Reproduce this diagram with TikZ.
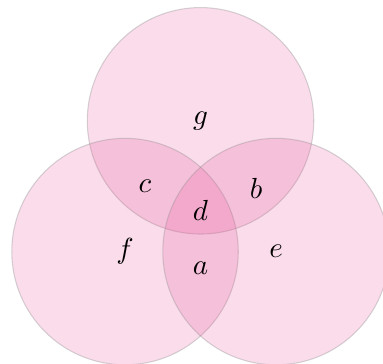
\documentclass[tikz,border=0pt]{standalone}
\usepackage{tikz}
\usetikzlibrary{positioning}
\definecolor{vennpink}{RGB}{228,80,150}

\begin{document}
\begin{tikzpicture}[
    set/.style={fill=vennpink, fill opacity=0.2, draw=black!45, draw opacity=0.35, line width=0.4pt},
    lbl/.style={font=\fontsize{11}{13}\selectfont}
]
\clip (-2.656,-1.489) rectangle (2.417,3.332);
\coordinate (top) at (0,1.732);
\coordinate (left) at (-1,0);
\coordinate (right) at (1,0);
\draw[set] (top) circle (1.5);
\draw[set] (left) circle (1.5);
\draw[set] (right) circle (1.5);
\node[lbl] (g) at (top) {$g$};
\node[lbl] (f) at (left) {$f$};
\node[lbl] (e) at (right) {$e$};
\node[lbl] (c) at (-0.735,0.86) {$c$};
\node[lbl] (b) at (0.735,0.84) {$b$};
\node[lbl] (d) at (0,0.55) {$d$};
\node[lbl] (a) at (0,-0.22) {$a$};
\end{tikzpicture}
\end{document}
